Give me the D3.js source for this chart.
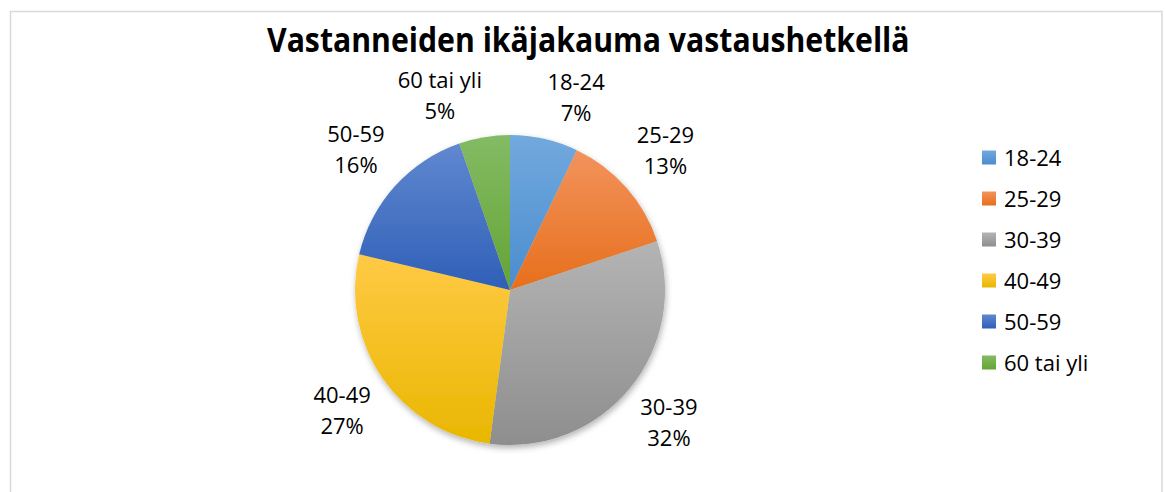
<!DOCTYPE html>
<html>
<head>
<meta charset="utf-8">
<script src="https://cdn.jsdelivr.net/npm/d3@7"></script>
<style>
  html, body { margin: 0; padding: 0; background: #ffffff; }
  svg { display: block; }
  text { font-family: "Open Sans", "Noto Sans", sans-serif; fill: #000; }
</style>
</head>
<body>
<svg id="chart" width="1165" height="492"></svg>
<script>
// ---- Data ----
const title = "Vastanneiden ikäjakauma vastaushetkellä";
const categories = ["18-24", "25-29", "30-39", "40-49", "50-59", "60 tai yli"];
const values = [7.1, 12.8, 32.2, 26.6, 16.0, 5.3];
const colorsTop = ["#72a9dd", "#f2935c", "#b4b4b4", "#ffca45", "#6188d0", "#84bb64"];
const colorsBottom = ["#4a8dcf", "#e76f1c", "#8e8e8e", "#e9b700", "#2f5fb7", "#64a435"];

// ---- Layout ----
const W = 1165, H = 492;
const cx = 510, cy = 290, R = 155;
const labelGap = 14;

const svg = d3.select("#chart");

// frame
svg.append("rect")
  .attr("x", 10.5).attr("y", 11.5)
  .attr("width", 1151.5).attr("height", 500)
  .attr("fill", "#fff").attr("stroke", "#d9d9d9").attr("stroke-width", 1.5);

const defs = svg.append("defs");
categories.forEach((c, i) => {
  const g = defs.append("linearGradient").attr("id", "grad" + i)
    .attr("x1", 0).attr("y1", 0).attr("x2", 0).attr("y2", 1);
  g.append("stop").attr("offset", "0%").attr("stop-color", colorsTop[i]);
  g.append("stop").attr("offset", "100%").attr("stop-color", colorsBottom[i]);
});
const f = defs.append("filter").attr("id", "shadow")
  .attr("x", "-10%").attr("y", "-10%").attr("width", "125%").attr("height", "125%");
f.append("feDropShadow").attr("dx", 1).attr("dy", 3).attr("stdDeviation", 3)
  .attr("flood-color", "#000").attr("flood-opacity", 0.3);

// title
const t = svg.append("text")
  .attr("x", 267).attr("y", 52)
  .attr("font-weight", "bold")
  .attr("font-size", 30)
  .text(title);
const tw = t.node().getComputedTextLength();
const fs = 30 * (643 / tw);
t.attr("font-size", fs)
  .attr("transform", "translate(0,52) scale(1,1.15) translate(0,-52)");

// pie
const pie = d3.pie().sort(null).value(d => d)(values);
const arc = d3.arc().innerRadius(0).outerRadius(R);
const total = d3.sum(values);

const g = svg.append("g").attr("transform", `translate(${cx},${cy})`);
g.append("g").attr("filter", "url(#shadow)")
  .selectAll("path").data(pie).join("path")
  .attr("d", arc)
  .attr("fill", (d, i) => `url(#grad${i})`);

// labels
const fsLabel = 22, lh = 31;
pie.forEach((d, i) => {
  const mid = (d.startAngle + d.endAngle) / 2;
  const ux = Math.sin(mid), uy = -Math.cos(mid);
  const px = cx + (R + labelGap) * ux;
  const py = cy + (R + labelGap) * uy;
  const lab = svg.append("text").attr("font-size", fsLabel).attr("text-anchor", "middle");
  const l1 = lab.append("tspan").text(categories[i]);
  const l2 = lab.append("tspan").text(Math.round(d.value / total * 100) + "%");
  const w = Math.max(l1.node().getComputedTextLength(), l2.node().getComputedTextLength());
  const bx = ux >= 0 ? px + w / 2 : px - w / 2;
  const top = uy <= 0 ? py - 52 : py;
  l1.attr("x", bx).attr("y", top + 17);
  l2.attr("x", bx).attr("y", top + 17 + lh);
});

// legend
const lg = svg.append("g");
categories.forEach((c, i) => {
  const y = 157.5 + i * 41;
  lg.append("rect").attr("x", 982).attr("y", y - 7).attr("width", 14).attr("height", 14)
    .attr("fill", `url(#grad${i})`);
  lg.append("text").attr("x", 1004).attr("y", y + 8).attr("font-size", fsLabel).text(c);
});
</script>
</body>
</html>
